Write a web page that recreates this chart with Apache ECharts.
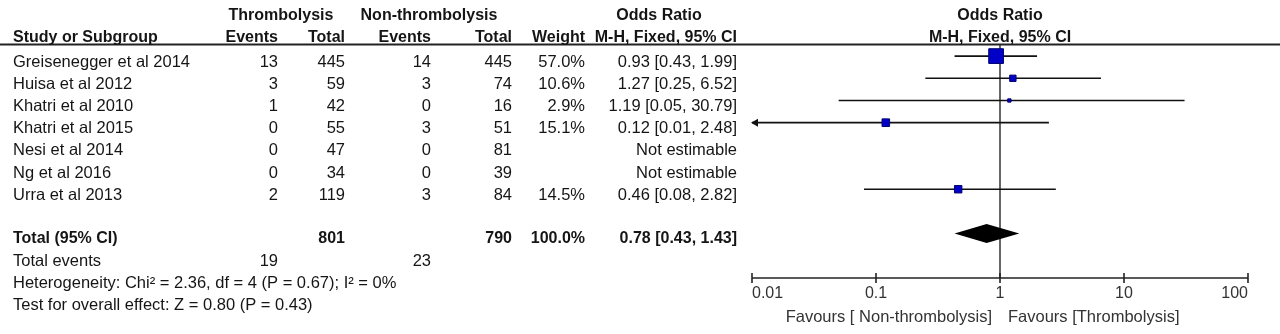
<!DOCTYPE html>
<html>
<head>
<meta charset="utf-8">
<script src="https://cdn.jsdelivr.net/npm/echarts@6/dist/echarts.min.js"></script>
<style>
html,body{margin:0;padding:0;background:#fff;}
#chart{width:1280px;height:334px;}
</style>
</head>
<body>
<div id="chart"></div>
<script>
// ---- data ----
const studies = ['Greisenegger et al 2014','Huisa et al 2012','Khatri et al 2010','Khatri et al 2015','Nesi et al 2014','Ng et al 2016','Urra et al 2013'];
const eventsT = [13, 3, 1, 0, 0, 0, 2];
const totalT  = [445, 59, 42, 55, 47, 34, 119];
const eventsC = [14, 3, 0, 3, 0, 0, 3];
const totalC  = [445, 74, 16, 51, 81, 39, 84];
const weights = [57.0, 10.6, 2.9, 15.1, null, null, 14.5];
const oddsRatio = [0.93, 1.27, 1.19, 0.12, null, null, 0.46];
const ciLow  = [0.43, 0.25, 0.05, 0.01, null, null, 0.08];
const ciHigh = [1.99, 6.52, 30.79, 2.48, null, null, 2.82];
const pooled = [0.78, 0.43, 1.43];          // OR, lower, upper
const pooledTotals = [801, 790, '100.0%'];
const pooledEvents = [19, 23];
const axisTicks = [0.01, 0.1, 1, 10, 100];
const tickLabels = ['0.01', '0.1', '1', '10', '100'];
const heterogeneityText = 'Heterogeneity: Chi\u00B2 = 2.36, df = 4 (P = 0.67); I\u00B2 = 0%';
const overallText = 'Test for overall effect: Z = 0.80 (P = 0.43)';

// ---- layout ----
const FONT = '"Liberation Sans", Arial, sans-serif';
const colStudy = 13, colEvT = 278, colTotT = 345, colEvC = 431, colTotC = 512, colW = 585, colOR = 737;
const rowY0 = 62, rowStep = 22.2;
const TXT = '#151515';

const fmt2 = v => v.toFixed(2);
function txt(x, y, text, align, bold, size, color) {
  return {
    type: 'text', silent: true,
    style: {
      x: x, y: y, text: String(text),
      align: align, textAlign: align,
      verticalAlign: 'middle', textVerticalAlign: 'middle',
      font: (bold ? 'bold ' : '') + (size || 16.5) + 'px ' + FONT,
      fill: color || TXT
    }
  };
}

const g = [];
// header line
g.push({ type: 'line', silent: true, shape: { x1: 0, y1: 44.5, x2: 1280, y2: 44.5 }, style: { stroke: '#222', lineWidth: 2 } });
// header row 1
g.push(txt(281, 16, 'Thrombolysis', 'center', true, 16));
g.push(txt(429, 16, 'Non-thrombolysis', 'center', true, 16));
g.push(txt(659, 16, 'Odds Ratio', 'center', true, 16));
g.push(txt(1000, 16, 'Odds Ratio', 'center', true, 16));
// header row 2
g.push(txt(colStudy, 37.5, 'Study or Subgroup', 'left', true, 16));
g.push(txt(colEvT, 37.5, 'Events', 'right', true, 16));
g.push(txt(colTotT, 37.5, 'Total', 'right', true, 16));
g.push(txt(colEvC, 37.5, 'Events', 'right', true, 16));
g.push(txt(colTotC, 37.5, 'Total', 'right', true, 16));
g.push(txt(colW, 37.5, 'Weight', 'right', true, 16));
g.push(txt(colOR, 37.5, 'M-H, Fixed, 95% CI', 'right', true, 16));
g.push(txt(1000, 37.5, 'M-H, Fixed, 95% CI', 'center', true, 16));
// study rows
studies.forEach((s, i) => {
  const y = rowY0 + rowStep * i;
  g.push(txt(colStudy, y, s, 'left'));
  g.push(txt(colEvT, y, eventsT[i], 'right'));
  g.push(txt(colTotT, y, totalT[i], 'right'));
  g.push(txt(colEvC, y, eventsC[i], 'right'));
  g.push(txt(colTotC, y, totalC[i], 'right'));
  if (weights[i] != null) g.push(txt(colW, y, weights[i].toFixed(1) + '%', 'right'));
  const orText = oddsRatio[i] == null ? 'Not estimable'
    : fmt2(oddsRatio[i]) + ' [' + fmt2(ciLow[i]) + ', ' + fmt2(ciHigh[i]) + ']';
  g.push(txt(colOR, y, orText, 'right'));
});
// totals
g.push(txt(colStudy, 239, 'Total (95% CI)', 'left', true, 16));
g.push(txt(colTotT, 239, pooledTotals[0], 'right', true, 16));
g.push(txt(colTotC, 239, pooledTotals[1], 'right', true, 16));
g.push(txt(colW, 239, pooledTotals[2], 'right', true, 16));
g.push(txt(colOR, 239, fmt2(pooled[0]) + ' [' + fmt2(pooled[1]) + ', ' + fmt2(pooled[2]) + ']', 'right', true, 16));
g.push(txt(colStudy, 261, 'Total events', 'left'));
g.push(txt(colEvT, 261, pooledEvents[0], 'right'));
g.push(txt(colEvC, 261, pooledEvents[1], 'right'));
g.push(txt(colStudy, 283, heterogeneityText, 'left'));
g.push(txt(colStudy, 305, overallText, 'left'));
// favours labels
g.push(txt(992, 317, 'Favours [ Non-thrombolysis]', 'right', false, 16.5, '#333'));
g.push(txt(1008, 317, 'Favours [Thrombolysis]', 'left', false, 16.5, '#333'));

// ---- series data ----
const studyData = [];
studies.forEach((s, i) => {
  if (oddsRatio[i] != null) studyData.push([oddsRatio[i], i, ciLow[i], ciHigh[i], weights[i]]);
});
const pooledRow = studies.length + 1;
const xMin = axisTicks[0], xMax = axisTicks[axisTicks.length - 1];
const yMin = -0.5, yMax = 10;

function renderStudy(params, api) {
  const or = api.value(0), row = api.value(1), lo = api.value(2), hi = api.value(3), w = api.value(4);
  const p = api.coord([or, row]);
  const pl = api.coord([Math.max(lo, xMin), row]);
  const ph = api.coord([Math.min(hi, xMax), row]);
  const s = 1.95 * Math.sqrt(w);
  const children = [
    { type: 'line', shape: { x1: pl[0], y1: p[1], x2: ph[0], y2: p[1] }, style: { stroke: '#111', lineWidth: 1.6 } },
    { type: 'rect', shape: { x: p[0] - s / 2, y: p[1] - s / 2, width: s, height: s }, style: { fill: '#0000c8', stroke: '#00006e', lineWidth: 1 } }
  ];
  if (lo <= xMin) {
    children.push({ type: 'polygon', shape: { points: [[pl[0] - 1, p[1]], [pl[0] + 6, p[1] - 4], [pl[0] + 6, p[1] + 4]] }, style: { fill: '#111' } });
  }
  if (hi >= xMax) {
    children.push({ type: 'polygon', shape: { points: [[ph[0] + 1, p[1]], [ph[0] - 6, p[1] - 4], [ph[0] - 6, p[1] + 4]] }, style: { fill: '#111' } });
  }
  return { type: 'group', children: children };
}
function renderPooled(params, api) {
  const or = api.value(0), row = api.value(1), lo = api.value(2), hi = api.value(3);
  const p = api.coord([or, row]);
  const pl = api.coord([lo, row]);
  const ph = api.coord([hi, row]);
  const h = 9.5;
  return { type: 'polygon', shape: { points: [[pl[0], p[1]], [p[0], p[1] - h], [ph[0], p[1]], [p[0], p[1] + h]] }, style: { fill: '#000' } };
}
// axis line + two-sided ticks at each tick value, positioned via the axis scale
function renderAxis(params, api) {
  const a = api.coord([xMin, yMax]);
  const b = api.coord([xMax, yMax]);
  const children = [{ type: 'line', shape: { x1: a[0], y1: a[1], x2: b[0], y2: b[1] }, style: { stroke: '#222', lineWidth: 1.6 } }];
  axisTicks.forEach(t => {
    const c = api.coord([t, yMax]);
    children.push({ type: 'line', shape: { x1: c[0], y1: c[1] - 5, x2: c[0], y2: c[1] + 5 }, style: { stroke: '#222', lineWidth: 1.6 } });
  });
  return { type: 'group', children: children };
}

const chart = echarts.init(document.getElementById('chart'), null, { renderer: 'canvas' });
const labelFmt = v => {
  const k = axisTicks.findIndex(t => Math.abs(Math.log10(t) - Math.log10(v)) < 1e-6);
  return k >= 0 ? tickLabels[k] : '';
};
chart.setOption({
  animation: false,
  backgroundColor: '#fff',
  grid: { left: 752, right: 32, top: 45, bottom: 56 },
  xAxis: {
    type: 'log', logBase: 10, min: xMin, max: xMax, splitNumber: 4, position: 'bottom',
    axisLine: { show: false, onZero: false },
    axisTick: { show: false },
    splitLine: { show: false }, minorTick: { show: false },
    axisLabel: { show: true, formatter: labelFmt, fontSize: 16, fontFamily: FONT, color: '#333', margin: 8, alignMinLabel: 'left', alignMaxLabel: 'right', showMinLabel: true, showMaxLabel: true }
  },
  yAxis: { type: 'value', min: yMin, max: yMax, inverse: true, show: false },
  series: [
    {
      type: 'line', data: [[1, yMin], [1, yMax]], symbol: 'none', silent: true,
      lineStyle: { color: '#333', width: 1.5 }, z: 1
    },
    {
      type: 'custom', renderItem: renderAxis, clip: false, z: 2, silent: true,
      encode: { x: 0, y: 1 }, data: [[1, yMax]]
    },
    {
      type: 'custom', renderItem: renderStudy, clip: false, z: 3,
      encode: { x: 0, y: 1 }, data: studyData
    },
    {
      type: 'custom', renderItem: renderPooled, clip: false, z: 3,
      encode: { x: 0, y: 1 }, data: [[pooled[0], pooledRow, pooled[1], pooled[2]]]
    }
  ],
  graphic: g
});
</script>
</body>
</html>
